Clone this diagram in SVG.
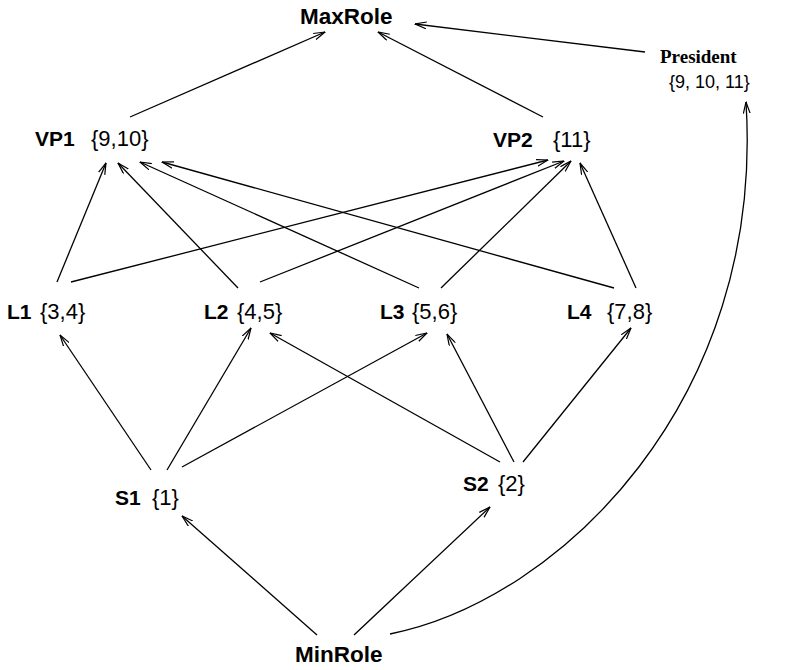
<svg xmlns="http://www.w3.org/2000/svg" width="791" height="670" viewBox="0 0 791 670">
<style>
.b{font-family:"Liberation Sans",Arial,sans-serif;font-weight:bold;font-size:21px;fill:#000}
.r{font-family:"Liberation Sans",Arial,sans-serif;font-size:22px;fill:#000}
.big{font-size:22.5px}
.t{font-family:"Liberation Serif","Times New Roman",serif;font-weight:bold;font-size:19px;fill:#000}
.s{font-family:"Liberation Sans",Arial,sans-serif;font-size:18px;fill:#000}
#edges path,#edges line{fill:none;stroke:#000;stroke-width:1.3;marker-end:url(#a)}
</style>
<defs>
<marker id="a" viewBox="0 0 12 8" refX="11.5" refY="4" markerWidth="12" markerHeight="8" orient="auto" markerUnits="userSpaceOnUse">
<path d="M0,0.6 L11.5,4 L0,7.4" fill="none" stroke="#000" stroke-width="1.2"/>
</marker>
</defs>
<g id="edges">
<line x1="130" y1="117" x2="325" y2="32"/>
<line x1="543" y1="117" x2="378" y2="32"/>
<line x1="645" y1="52" x2="415" y2="24"/>
<line x1="57" y1="282" x2="106" y2="163"/>
<line x1="71" y1="282" x2="548" y2="160"/>
<line x1="238" y1="288" x2="118" y2="163"/>
<line x1="260" y1="282" x2="564" y2="161"/>
<line x1="419" y1="288" x2="140" y2="162"/>
<line x1="441" y1="288" x2="571" y2="161"/>
<line x1="614" y1="288" x2="162" y2="162"/>
<line x1="636" y1="288" x2="580" y2="163"/>
<line x1="151" y1="470" x2="60" y2="335"/>
<line x1="167" y1="470" x2="251" y2="328"/>
<line x1="182" y1="467" x2="427" y2="333"/>
<line x1="500" y1="462" x2="270" y2="333"/>
<line x1="514" y1="462" x2="447" y2="334"/>
<line x1="523" y1="462" x2="631" y2="328"/>
<line x1="317" y1="635" x2="182" y2="516"/>
<line x1="354" y1="635" x2="490" y2="507"/>
<path d="M390,634 C560,600 765,400 746,102"/>
</g>
<g id="MaxRole"><text class="b big" x="300" y="24">MaxRole</text></g>
<g id="President"><text class="t" x="660" y="63">President</text><text class="s" x="669" y="88">{9, 10, 11}</text></g>
<g id="VP1"><text class="b" x="35" y="146">VP1</text><text class="r" x="91" y="146">{9,10}</text></g>
<g id="VP2"><text class="b" x="493" y="147">VP2</text><text class="r" x="553" y="147">{11}</text></g>
<g id="L1"><text class="b" x="7" y="319">L1</text><text class="r" x="40" y="319">{3,4}</text></g>
<g id="L2"><text class="b" x="204" y="319">L2</text><text class="r" x="237" y="319">{4,5}</text></g>
<g id="L3"><text class="b" x="380" y="319">L3</text><text class="r" x="412" y="319">{5,6}</text></g>
<g id="L4"><text class="b" x="567" y="319">L4</text><text class="r" x="607" y="319">{7,8}</text></g>
<g id="S1"><text class="b" x="115" y="505">S1</text><text class="r" x="152" y="505">{1}</text></g>
<g id="S2"><text class="b" x="463" y="491">S2</text><text class="r" x="498" y="491">{2}</text></g>
<g id="MinRole"><text class="b big" x="295" y="662">MinRole</text></g>
</svg>
